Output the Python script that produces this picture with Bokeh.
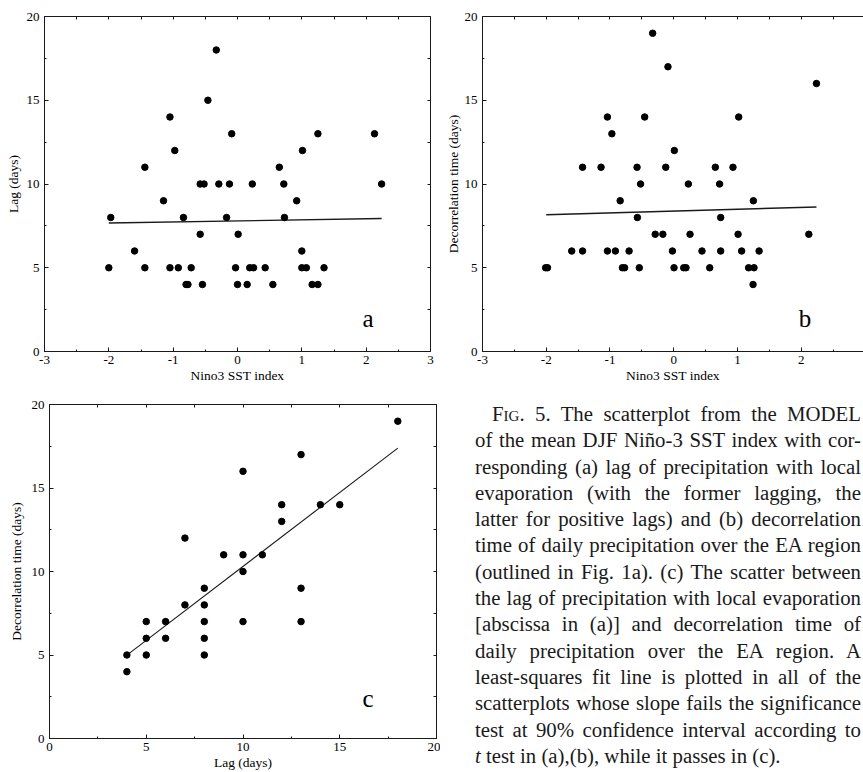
import numpy as np
from bokeh.plotting import figure
from bokeh.models import SingleIntervalTicker, FixedTicker, LinearAxis, Range1d, Div
from bokeh.layouts import row, column
from bokeh.embed import file_html
from bokeh.resources import INLINE
from bokeh.core.properties import value

# ---------------- data ----------------
# panel a: Nino3 SST index vs lag (days)
nino_a = [-2.00, -1.97, -1.60, -1.44, -1.44, -1.15, -1.05, -1.05, -0.975, -0.92,
          -0.84, -0.80, -0.77, -0.72, -0.58, -0.52, -0.58, -0.545, -0.46, -0.33,
          -0.29, -0.17, -0.125, -0.09, -0.03, 0.00, 0.01, 0.15, 0.19, 0.23,
          0.25, 0.43, 0.55, 0.65, 0.72, 0.73, 0.92, 1.01, 1.00, 1.00,
          1.07, 1.16, 1.25, 1.25, 1.345, 2.13, 2.24]
lag_a = [5, 8, 6, 11, 5, 9, 14, 5, 12, 5,
         8, 4, 4, 5, 10, 10, 7, 4, 15, 18,
         10, 8, 10, 13, 5, 4, 7, 4, 5, 10,
         5, 5, 4, 11, 10, 8, 9, 12, 6, 5,
         5, 4, 4, 13, 5, 13, 10]
fit_a_x = [-2.00, 2.24]
fit_a_y = [7.67, 7.94]

# panel b: Nino3 SST index vs decorrelation time (days)
nino_b = [-2.01, -1.98, -1.60, -1.43, -1.43, -1.14, -1.04, -1.04, -0.97, -0.915,
          -0.84, -0.805, -0.77, -0.70, -0.575, -0.57, -0.54, -0.52, -0.455, -0.33,
          -0.29, -0.17, -0.125, -0.09, -0.02, 0.005, 0.01, 0.157, 0.193, 0.23,
          0.256, 0.444, 0.565, 0.653, 0.72, 0.737, 0.737, 0.93, 1.01, 1.02,
          1.066, 1.175, 1.245, 1.25, 1.26, 1.34, 2.12, 2.24]
decor_b = [5, 5, 6, 11, 6, 11, 14, 6, 13, 6,
           9, 5, 5, 6, 11, 8, 5, 10, 14, 19,
           7, 7, 11, 17, 6, 5, 12, 5, 5, 10,
           7, 6, 5, 11, 10, 8, 6, 11, 7, 14,
           6, 5, 4, 9, 5, 6, 7, 16]
fit_b_x = [-2.00, 2.24]
fit_b_y = [8.16, 8.63]

# panel c: lag (days) vs decorrelation time (days)
lag_c = [4, 4, 5, 5, 5, 6, 6, 7, 7, 8, 8, 8, 8, 8, 9, 10, 10, 10, 10, 11,
         12, 12, 13, 13, 13, 14, 15, 18]
decor_c = [5, 4, 7, 6, 5, 7, 6, 12, 8, 9, 8, 7, 6, 5, 11, 16, 11, 10, 7, 11,
           14, 13, 17, 9, 7, 14, 14, 19]
fit_c_x = [4.0, 18.0]
fit_c_y = [4.99, 17.39]

panel_labels = ["a", "b", "c"]
label_x = [2.03, 2.06, 16.46]
label_y = [2.0, 2.0, 2.4]

x_titles = ["Nino3 SST index", "Nino3 SST index", "Lag (days)"]
y_titles = ["Lag (days)", "Decorrelation time (days)", "Decorrelation time (days)"]

caption_lines = [
    "Fig. 5. The scatterplot from the MODEL",
    "of the mean DJF Niño-3 SST index with cor-",
    "responding (a) lag of precipitation with local",
    "evaporation (with the former lagging, the",
    "latter for positive lags) and (b) decorrelation",
    "time of daily precipitation over the EA region",
    "(outlined in Fig. 1a). (c) The scatter between",
    "the lag of precipitation with local evaporation",
    "[abscissa in (a)] and decorrelation time of",
    "daily precipitation over the EA region. A",
    "least-squares fit line is plotted in all of the",
    "scatterplots whose slope fails the significance",
    "test at 90% confidence interval according to",
    "t test in (a),(b), while it passes in (c).",
]

# ---------------- styling helpers ----------------
SERIF = "Liberation Serif"
INK = "#1a1a1a"


def base_axis(ax):
    ax.axis_line_color = INK
    ax.axis_line_width = 1
    ax.major_tick_in = 4
    ax.major_tick_out = 0
    ax.minor_tick_in = 2
    ax.minor_tick_out = 0
    ax.major_tick_line_color = INK
    ax.minor_tick_line_color = INK
    ax.major_label_text_font = SERIF
    ax.major_label_text_color = "black"
    ax.major_label_text_font_size = "13px"
    ax.axis_label_text_font = SERIF
    ax.axis_label_text_font_style = "normal"
    ax.axis_label_text_color = "black"
    ax.axis_label_text_font_size = "13.5px"


def hyphen_labels(lo, hi, step):
    # plain hyphen-minus for negative tick labels, as in the original figure
    return {float(t): f"{int(round(t))}" for t in np.arange(lo, hi + 1e-9, step) if t < 0}


def mirror_axis(lo, hi, step):
    # ticks only (no labels): all tick marks drawn as "minor" ticks of an axis with no major ticks
    ticks = list(np.arange(lo, hi + 1e-9, step / 2.0))
    ax = LinearAxis(ticker=FixedTicker(ticks=[], minor_ticks=ticks))
    base_axis(ax)
    ax.minor_tick_in = 3
    return ax


def make_panel(xs, ys, fx, fy, xr, xint, width, height, borders, idx,
               right_axis=True, fit_width=1.4, ylab_standoff=3):
    p = figure(width=width, height=height, x_range=Range1d(*xr), y_range=Range1d(0, 20),
               output_backend="svg", toolbar_location=None, x_axis_location=None,
               y_axis_location=None)
    p.min_border_left, p.min_border_right, p.min_border_top, p.min_border_bottom = borders
    p.grid.visible = False
    p.outline_line_color = None
    p.background_fill_color = "white"
    p.border_fill_color = "white"

    xb = LinearAxis(ticker=SingleIntervalTicker(interval=xint, num_minor_ticks=2),
                    axis_label=x_titles[idx])
    base_axis(xb)
    xb.major_label_standoff = 4
    xb.axis_label_standoff = 1
    xb.major_label_overrides = hyphen_labels(xr[0], xr[1], xint)
    p.add_layout(xb, "below")

    yl = LinearAxis(ticker=SingleIntervalTicker(interval=5, num_minor_ticks=2),
                    axis_label=y_titles[idx])
    base_axis(yl)
    yl.major_label_standoff = 5
    yl.axis_label_standoff = ylab_standoff
    p.add_layout(yl, "left")

    p.add_layout(mirror_axis(xr[0], xr[1], xint), "above")
    if right_axis:
        p.add_layout(mirror_axis(0, 20, 5), "right")

    p.line(fx, fy, line_color=INK, line_width=fit_width)
    p.scatter(xs, ys, size=6.5, color="black")
    p.text(x=[label_x[idx]], y=[label_y[idx]], text=[panel_labels[idx]],
           text_font=value(SERIF), text_font_size="25px", text_align="center",
           text_baseline="alphabetic", text_color="black")
    return p


pa = make_panel(nino_a, lag_a, fit_a_x, fit_a_y, (-3, 3), 1, 440, 392, (44, 10, 16, 38), 0,
                ylab_standoff=3)
pb = make_panel(nino_b, decor_b, fit_b_x, fit_b_y, (-3, 2.978), 1, 423, 392, (42, 0, 14, 41), 1,
                right_axis=False, ylab_standoff=1)
pc = make_panel(lag_c, decor_c, fit_c_x, fit_c_y, (0, 20), 5, 440, 380, (49, 4, 12, 31), 2,
                fit_width=1.1, ylab_standoff=5)

# ---------------- caption ----------------
html_lines = []
for i, ln in enumerate(caption_lines):
    txt = ln.replace("&", "&amp;")
    if i == 0:
        txt = "F<span style='font-variant:small-caps'>ig</span>" + txt[3:]
        style = "text-align:justify;text-align-last:justify;padding-left:17px;"
    elif i == len(caption_lines) - 1:
        txt = "<i>t</i>" + txt[1:]
        style = "text-align:left;"
    else:
        style = "text-align:justify;text-align-last:justify;"
    html_lines.append(f"<div style='{style}'>{txt}</div>")

caption_html = (
    "<div style='width:423px;height:380px;overflow:hidden;position:relative;'>"
    "<div style=\"position:absolute;left:35px;top:9px;width:386px;"
    "font-family:'Liberation Serif';font-size:20.8px;line-height:26.3px;color:#1a1a1a;\">"
    + "".join(html_lines) + "</div></div>"
)
cap = Div(text=caption_html, width=423, height=380, margin=0)

layout = column(row(pa, pb, spacing=0), row(pc, cap, spacing=0), spacing=0)

open("out.html", "w").write(file_html(layout, INLINE))
